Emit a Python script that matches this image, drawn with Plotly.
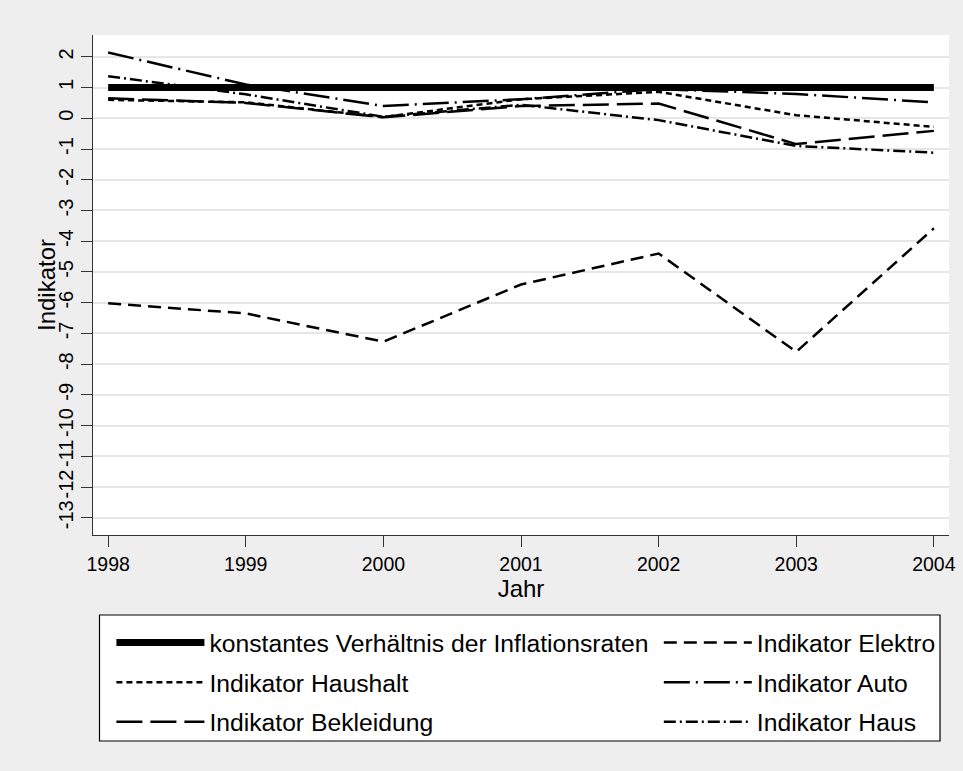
import plotly.graph_objects as go

years = [1998, 1999, 2000, 2001, 2002, 2003, 2004]
konstant = [1, 1, 1, 1, 1, 1, 1]
elektro = [-6.02, -6.35, -7.27, -5.41, -4.40, -7.60, -3.58]
haushalt = [0.60, 0.52, 0.04, 0.62, 0.86, 0.10, -0.28]
auto = [2.14, 1.10, 0.40, 0.62, 0.95, 0.79, 0.52]
bekleidung = [0.65, 0.50, 0.03, 0.40, 0.48, -0.84, -0.41]
haus = [1.37, 0.78, 0.05, 0.44, -0.06, -0.90, -1.12]

y_ticks = list(range(-13, 3))
y_ticktext = [str(v) for v in y_ticks]

FONT = "Liberation Sans, Arial, sans-serif"

series = [
    ("konstantes Verhältnis der Inflationsraten", konstant, 7, "solid", "legend"),
    ("Indikator Elektro", elektro, 2.5, "13px,7px", "legend2"),
    ("Indikator Haushalt", haushalt, 2.5, "6px,4px", "legend"),
    ("Indikator Auto", auto, 2.5, "26px,6px,2px,6px", "legend2"),
    ("Indikator Bekleidung", bekleidung, 2.5, "26px,8px", "legend"),
    ("Indikator Haus", haus, 2.5, "12px,4px,2px,4px", "legend2"),
]

fig = go.Figure()
for i, (name, vals, w, dash, lg) in enumerate(series):
    fig.add_trace(go.Scatter(
        x=years, y=vals, mode="lines", name=name,
        line=dict(color="black", width=w, dash=dash),
        legend=lg, legendgroup="g%d" % i,
    ))

legend_common = dict(
    orientation="v", xanchor="left", yanchor="top",
    bgcolor="rgba(0,0,0,0)", borderwidth=0,
    font=dict(family=FONT, size=24.7, color="black"),
    itemwidth=88, traceorder="grouped", tracegroupgap=4.5,
)

fig.update_layout(
    width=963, height=771,
    paper_bgcolor="#EEEEEE", plot_bgcolor="white",
    margin=dict(l=93, r=14, t=35, b=236, autoexpand=False),
    font=dict(family=FONT, color="black"),
    xaxis=dict(
        range=[1997.89, 2004.11], tickvals=years,
        ticktext=[str(y) for y in years],
        ticks="outside", ticklen=11, tickwidth=1.3, tickcolor="#333333",
        showline=True, linecolor="#333333", linewidth=1.3,
        showgrid=False, zeroline=False,
        tickfont=dict(size=19.5, family=FONT),
        title=dict(text="Jahr", font=dict(size=24, family=FONT), standoff=4),
    ),
    yaxis=dict(
        range=[-13.56, 2.71], tickvals=y_ticks, ticktext=y_ticktext,
        tickangle=-90,
        ticks="outside", ticklen=11, tickwidth=1.3, tickcolor="#333333",
        showline=True, linecolor="#333333", linewidth=1.3,
        showgrid=True, gridcolor="#E6E6E6", gridwidth=2,
        zeroline=False,
        tickfont=dict(size=20, family=FONT),
    ),
    annotations=[dict(
        text="Indikator", xref="paper", yref="paper", x=0, y=0.5,
        xshift=-47, xanchor="center", yanchor="middle", textangle=-90,
        showarrow=False, font=dict(size=24, family=FONT, color="black"),
    )],
    legend=dict(x=0.0215, y=-0.17, **legend_common),
    legend2=dict(x=0.661, y=-0.17, **legend_common),
    shapes=[dict(
        type="rect", xref="paper", yref="paper",
        x0=0.0076, x1=0.9895, y0=-0.412, y1=-0.160,
        line=dict(color="black", width=1.2), fillcolor="white", layer="below",
    )],
)

fig.write_html("out.html", config={"displayModeBar": False},
               post_script="document.body.style.margin='0';")
